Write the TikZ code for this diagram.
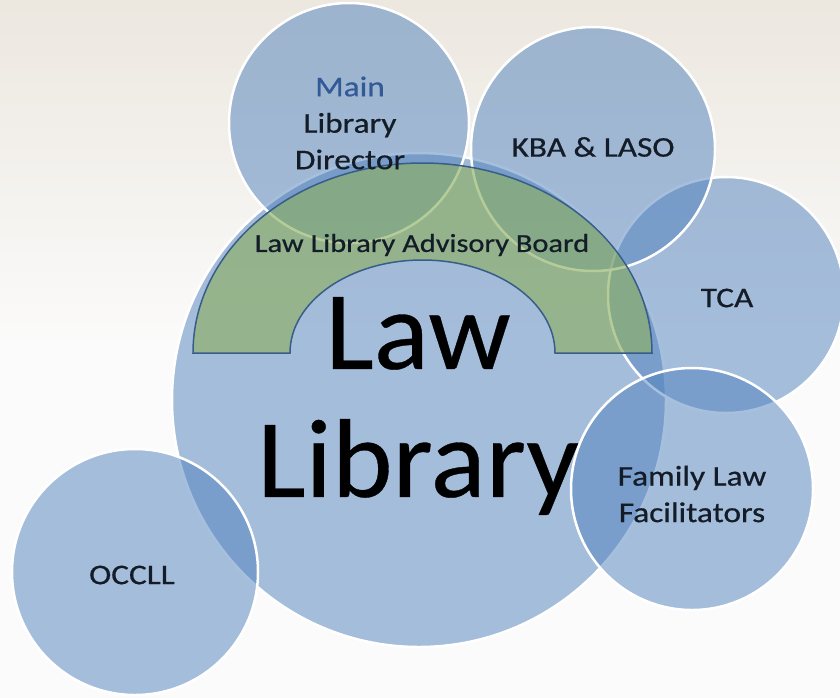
\documentclass[tikz,border=0pt]{standalone}
\usepackage{fontspec}
\setmainfont{Carlito}
\newfontfamily\smallfam{Carlito}[FakeStretch=1.17,FakeBold=0.6]
\newfontfamily\bigfam{Carlito}[FakeStretch=1.03,FakeBold=0.3]
\definecolor{cblue}{RGB}{79,129,189}
\definecolor{agreen}{RGB}{142,176,100}
\definecolor{aedge}{RGB}{56,93,138}
\definecolor{txt}{RGB}{20,28,40}
\definecolor{mainblue}{RGB}{50,90,150}
\definecolor{bgtop}{RGB}{236,231,223}
\definecolor{bgbot}{RGB}{251,251,251}
\begin{document}
\begin{tikzpicture}[x=1pt,y=-1pt,
  bubble/.style={circle, draw=white, line width=2.5pt, fill=cblue, fill opacity=0.5, minimum size=#1, inner sep=0pt},
  lbl/.style={text=txt, align=center, font=\smallfam\fontsize{28.5}{36.5}\selectfont},
  biglbl/.style={text=black, align=center, font=\bigfam\fontsize{112}{128}\selectfont},
  archlbl/.style={text=txt, font=\smallfam\fontsize{26}{30}\selectfont},
  archshape/.style={draw=aedge, line width=1.5pt, fill=agreen, fill opacity=0.65}]
\useasboundingbox (0,0) rectangle (840,697);
\fill[top color=bgtop, bottom color=bgbot, middle color=bgbot] (0,0) rectangle (840,697);
% circles
\node[bubble=494pt] (law) at (419,400) {};
\node[bubble=236pt] (tca) at (726,295) {};
\node[bubble=240pt] (main) at (349,123) {};
\node[bubble=244pt] (kba) at (593,149) {};
\node[bubble=242pt] (flf) at (692,489) {};
\node[bubble=246pt] (occll) at (135,572) {};
% arch
\path[archshape] (193,353) arc[start angle=180, end angle=0, x radius=229.5pt, y radius=190pt]
  -- (555,353) arc[start angle=0, end angle=180, x radius=132.5pt, y radius=93pt] -- cycle;
% labels
\node[archlbl] (board) at (422,245) {Law Library Advisory Board};
\node[lbl] (tmain) at (350,123) {\textcolor{mainblue}{Main}\\Library\\Director};
\node[lbl] (tkba) at (593,147) {KBA \& LASO};
\node[lbl] (ttca) at (727,298) {TCA};
\node[lbl] (tflf) at (692,494) {Family Law\\Facilitators};
\node[lbl] (toccll) at (132,575) {OCCLL};
\node[biglbl] (tlaw) at (418,406) {Law\\Library};
\end{tikzpicture}
\end{document}
